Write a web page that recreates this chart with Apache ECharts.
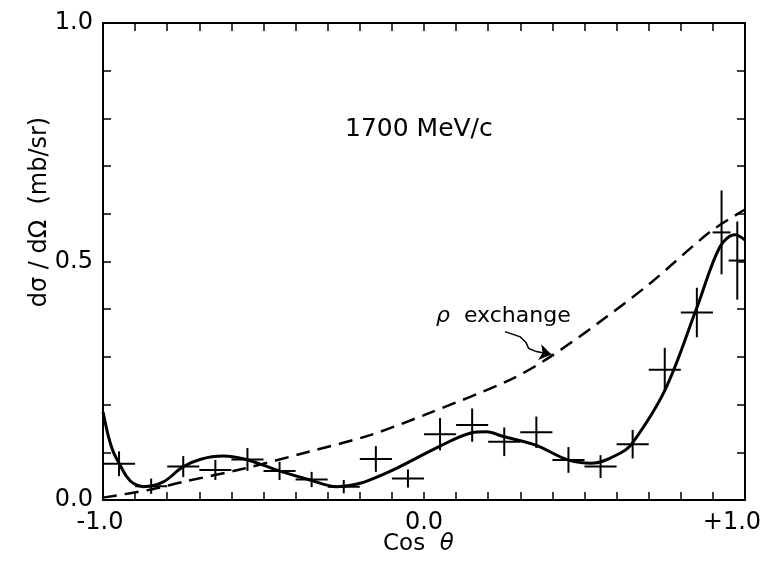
<!DOCTYPE html>
<html>
<head>
<meta charset="utf-8">
<script src="https://cdn.jsdelivr.net/npm/echarts@6/dist/echarts.min.js"></script>
<style>
  html, body { margin: 0; padding: 0; background: #fff; }
  #chart { width: 762px; height: 572px; }
</style>
</head>
<body>
<div id="chart"></div>
<script>
// measured points (bin centres)
var cosTheta = [-0.95, -0.85, -0.75, -0.65, -0.55, -0.45, -0.35, -0.25, -0.15, -0.05,
                0.05, 0.15, 0.25, 0.35, 0.45, 0.55, 0.65, 0.75, 0.85, 0.927, 0.976];
var cosErr = [0.05, 0.05, 0.05, 0.05, 0.05, 0.05, 0.05, 0.05, 0.05, 0.05,
              0.05, 0.05, 0.05, 0.05, 0.05, 0.05, 0.05, 0.05, 0.05, 0.028, 0.027];
var sigma = [0.076, 0.029, 0.070, 0.063, 0.085, 0.061, 0.043, 0.028, 0.086, 0.045,
             0.138, 0.157, 0.122, 0.142, 0.084, 0.070, 0.117, 0.273, 0.393, 0.561, 0.502];
var sigmaErr = [0.026, 0.016, 0.022, 0.021, 0.024, 0.019, 0.016, 0.014, 0.027, 0.019,
                0.034, 0.035, 0.030, 0.033, 0.027, 0.024, 0.030, 0.046, 0.052, 0.088, 0.082];

// fit curve (solid)
var fitX = [-1.0, -0.983, -0.968, -0.949, -0.926, -0.906, -0.874, -0.812, -0.752, -0.698,
            -0.625, -0.56, -0.501, -0.451, -0.355, -0.272, -0.199, -0.168, -0.096, 0.047,
            0.143, 0.195, 0.247, 0.348, 0.448, 0.522, 0.611, 0.649, 0.751, 0.851,
            0.922, 0.969, 1.0];
var fitY = [0.185, 0.133, 0.101, 0.076, 0.049, 0.035, 0.028, 0.038, 0.069, 0.085,
            0.092, 0.086, 0.073, 0.061, 0.042, 0.028, 0.035, 0.042, 0.063, 0.112,
            0.140, 0.143, 0.133, 0.115, 0.084, 0.077, 0.098, 0.119, 0.231, 0.405,
            0.531, 0.556, 0.545];

// rho exchange (dashed)
var rhoX = [-1.0, -0.85, -0.75, -0.56, -0.365, -0.168, 0.008, 0.268, 0.393, 0.569, 0.704, 0.891, 1.0];
var rhoY = [0.005, 0.022, 0.038, 0.066, 0.100, 0.136, 0.180, 0.252, 0.300, 0.384, 0.454, 0.562, 0.609];

// label arrow path
var arrowX = [0.252, 0.300, 0.318, 0.326, 0.346];
var arrowY = [0.353, 0.342, 0.330, 0.318, 0.312];
var arrowTip = [0.397, 0.305];

function zip(a, b) {
  return a.map(function (v, i) { return [v, b[i]]; });
}

var points = cosTheta.map(function (x, i) {
  return [x, sigma[i], cosErr[i], sigmaErr[i]];
});

function near(v, t) { return Math.abs(v - t) < 1e-6; }

var font = 'DejaVu Sans';
var chart = echarts.init(document.getElementById('chart'));

function renderCross(params, api) {
  var x = api.value(0), y = api.value(1), ex = api.value(2), ey = api.value(3);
  var l = api.coord([x - ex, y]), r = api.coord([x + ex, y]);
  var t = api.coord([x, y + ey]), b = api.coord([x, y - ey]);
  var st = { stroke: '#000', lineWidth: 2 };
  return {
    type: 'group',
    children: [
      { type: 'line', shape: { x1: l[0], y1: l[1], x2: r[0], y2: r[1] }, style: st },
      { type: 'line', shape: { x1: t[0], y1: t[1], x2: b[0], y2: b[1] }, style: st }
    ]
  };
}

var tickStyle = { show: true, inside: true, length: 8, lineStyle: { color: '#000', width: 1.5 } };
var lineStyle = { show: true, onZero: false, lineStyle: { color: '#000', width: 2 } };

var arrowEnd = arrowX.length - 1;

chart.setOption({
  animation: false,
  backgroundColor: '#fff',
  grid: { left: 103, right: 17, top: 23, bottom: 72, outerBoundsMode: 'none', containLabel: false },
  xAxis: [{
    type: 'value', min: -1, max: 1, interval: 0.1, position: 'bottom',
    axisLine: lineStyle, axisTick: tickStyle, splitLine: { show: false },
    axisLabel: {
      color: '#000', fontFamily: font, fontSize: 24, margin: 11,
      formatter: function (v) {
        if (near(v, -1)) return '{l|-1.0}';
        if (near(v, 0)) return '0.0';
        if (near(v, 1)) return '{r|+1.0}';
        return '';
      },
      rich: {
        l: { fontFamily: font, fontSize: 24, padding: [0, 6, 0, 0] },
        r: { fontFamily: font, fontSize: 24, padding: [0, 26, 0, 0] }
      }
    }
  }, {
    type: 'value', min: -1, max: 1, interval: 0.1, position: 'top',
    axisLine: lineStyle, axisTick: tickStyle, axisLabel: { show: false }, splitLine: { show: false }
  }],
  yAxis: [{
    type: 'value', min: 0, max: 1, interval: 0.1, position: 'left',
    axisLine: lineStyle, axisTick: tickStyle, splitLine: { show: false },
    axisLabel: {
      color: '#000', fontFamily: font, fontSize: 24, margin: 10,
      formatter: function (v) {
        if (near(v, 0)) return '0.0';
        if (near(v, 0.5)) return '0.5';
        if (near(v, 1)) return '1.0';
        return '';
      }
    }
  }, {
    type: 'value', min: 0, max: 1, interval: 0.1, position: 'right',
    axisLine: lineStyle, axisTick: tickStyle, axisLabel: { show: false }, splitLine: { show: false }
  }],
  series: [{
    type: 'line', data: zip(fitX, fitY), smooth: 0.35, symbol: 'none',
    lineStyle: { color: '#000', width: 3 }
  }, {
    type: 'line', data: zip(rhoX, rhoY), smooth: 0.3, symbol: 'none',
    lineStyle: { color: '#000', width: 2.5, type: [14, 8] }
  }, {
    type: 'custom', renderItem: renderCross, data: points
  }, {
    type: 'lines', coordinateSystem: 'cartesian2d', polyline: true,
    lineStyle: { color: '#000', width: 1.5, opacity: 1 },
    data: [{ coords: zip(arrowX, arrowY) }]
  }, {
    type: 'lines', coordinateSystem: 'cartesian2d',
    symbol: ['none', 'arrow'], symbolSize: [0, 12],
    lineStyle: { color: '#000', width: 1.5, opacity: 1 },
    data: [{ coords: [[arrowX[arrowEnd], arrowY[arrowEnd]], arrowTip] }]
  }],
  graphic: [{
    type: 'text', left: 345, top: 117,
    style: { text: '1700 MeV/c', font: '25px "DejaVu Sans"', fill: '#000' }
  }, {
    type: 'text', left: 436, top: 305,
    style: {
      text: '{i|ρ}  exchange', font: '22px "DejaVu Sans"', fill: '#000',
      rich: { i: { fontStyle: 'italic', fontFamily: font, fontSize: 22 } }
    }
  }, {
    type: 'text', left: 383, top: 533,
    style: {
      text: 'Cos  {i|θ}', font: '23px "DejaVu Sans"', fill: '#000',
      rich: { i: { fontStyle: 'italic', fontFamily: font, fontSize: 23 } }
    }
  }, {
    type: 'text', x: 40, y: 212, rotation: Math.PI / 2,
    style: {
      text: 'dσ / dΩ  (mb/sr)', font: '24px "DejaVu Sans"', fill: '#000',
      align: 'center', verticalAlign: 'middle'
    }
  }]
});
</script>
</body>
</html>
